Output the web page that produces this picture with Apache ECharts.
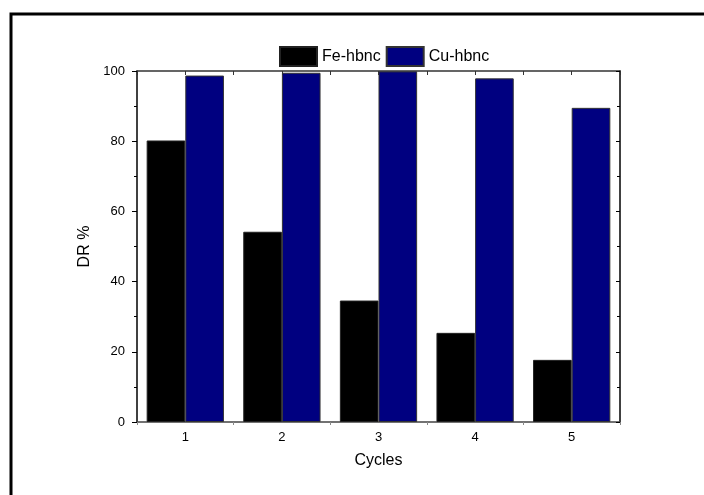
<!DOCTYPE html>
<html>
<head>
<meta charset="utf-8">
<script src="https://cdn.jsdelivr.net/npm/echarts@6/dist/echarts.min.js"></script>
<style>
  html, body { margin: 0; padding: 0; background: #fff; }
  #drChart { width: 704px; height: 495px; }
</style>
</head>
<body>
<div id="drChart"></div>
<script>
// data
var cycles = ['1', '2', '3', '4', '5'];
var fe_hbnc = [80.2, 54.2, 34.6, 25.4, 17.7];
var cu_hbnc = [98.7, 99.5, 99.9, 97.9, 89.5];
var y_ticks = [0, 20, 40, 60, 80, 100];

var dom = document.getElementById("drChart");
var myChart = echarts.init(dom);
var font = 'Liberation Sans, Arial, sans-serif';

var option = {
  animation: false,
  textStyle: { fontFamily: font },
  graphic: [
    {
      // outer frame (only left + top edges fall inside the picture)
      type: 'rect',
      shape: { x: 11, y: 14, width: 720, height: 520 },
      style: { fill: 'none', stroke: '#000', lineWidth: 3 },
      silent: true
    }
  ],
  legend: {
    left: 274,
    top: 41,
    itemWidth: 37,
    itemHeight: 19,
    itemGap: 5,
    icon: 'rect',
    textStyle: { fontSize: 16, color: '#000', fontFamily: font },
    data: ['Fe-hbnc', 'Cu-hbnc']
  },
  grid: { left: 137, right: 84, top: 71, bottom: 73 },
  xAxis: [
    {
      type: 'category',
      data: cycles,
      position: 'bottom',
      name: 'Cycles',
      nameLocation: 'middle',
      nameGap: 31,
      nameTextStyle: { fontSize: 16, color: '#000', fontFamily: font },
      axisLine: { lineStyle: { color: '#444', width: 1.5 } },
      axisTick: { show: true, inside: false, length: 3, lineStyle: { color: '#888' } },
      axisLabel: { fontSize: 13, color: '#000', margin: 9, fontFamily: font },
      splitLine: { show: false }
    },
    {
      // top frame axis
      type: 'value',
      position: 'top',
      min: 0.5,
      max: 5.5,
      interval: 0.5,
      axisLine: { show: true, onZero: false, lineStyle: { color: '#333', width: 1.5 } },
      axisTick: { show: true, inside: true, length: 4, lineStyle: { color: '#333' } },
      axisLabel: { show: false },
      splitLine: { show: false }
    }
  ],
  yAxis: [
    {
      type: 'value',
      min: y_ticks[0],
      max: y_ticks[y_ticks.length - 1],
      interval: 20,
      name: 'DR %',
      nameLocation: 'middle',
      nameGap: 44,
      nameTextStyle: { fontSize: 16, color: '#000', fontFamily: font },
      axisLine: { show: true, lineStyle: { color: '#000', width: 1.5 } },
      axisTick: { show: true, inside: false, length: 5, lineStyle: { color: '#000' } },
      minorTick: { show: true, splitNumber: 2, length: 3, lineStyle: { color: '#000' } },
      axisLabel: { fontSize: 13, color: '#000', margin: 12, fontFamily: font },
      splitLine: { show: false }
    },
    {
      // right frame axis
      type: 'value',
      position: 'right',
      min: y_ticks[0],
      max: y_ticks[y_ticks.length - 1],
      interval: 20,
      axisLine: { show: true, lineStyle: { color: '#000', width: 1.5 } },
      axisTick: { show: true, inside: true, length: 4, lineStyle: { color: '#000' } },
      minorTick: { show: true, splitNumber: 2, length: 3, lineStyle: { color: '#000' } },
      axisLabel: { show: false },
      splitLine: { show: false }
    }
  ],
  series: [
    {
      name: 'Fe-hbnc',
      type: 'bar',
      xAxisIndex: 0,
      yAxisIndex: 0,
      data: fe_hbnc,
      barWidth: '40%',
      barGap: '0%',
      itemStyle: { color: '#000', borderColor: '#222', borderWidth: 1 }
    },
    {
      name: 'Cu-hbnc',
      type: 'bar',
      xAxisIndex: 0,
      yAxisIndex: 0,
      data: cu_hbnc,
      barWidth: '40%',
      barGap: '0%',
      itemStyle: { color: '#000080', borderColor: '#333', borderWidth: 1 }
    }
  ]
};

if (option && typeof option === 'object') {
  myChart.setOption(option);
}
</script>
</body>
</html>
